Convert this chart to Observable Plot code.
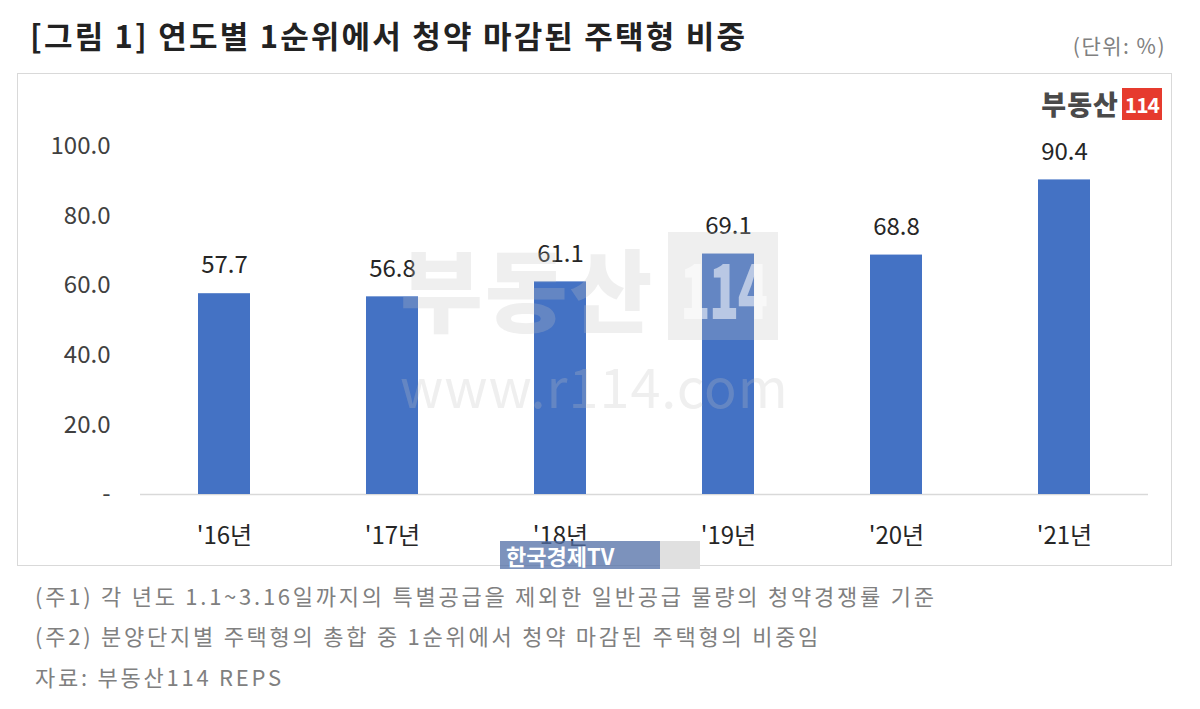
<!DOCTYPE html>
<html><head><meta charset="utf-8">
<script src="https://cdn.jsdelivr.net/npm/d3@7"></script>
<script src="https://cdn.jsdelivr.net/npm/@observablehq/plot@0.6"></script>
<style>
body{margin:0;background:#fff;font-family:"Noto Sans CJK KR","Noto Sans",sans-serif;}
#wrap{position:relative;width:1200px;height:709px;overflow:hidden;}
.abs{position:absolute;white-space:nowrap;}
#title{left:30px;top:12px;font-size:31px;font-weight:700;color:#222;letter-spacing:2.2px;}
#unit{right:34px;top:30px;font-size:21px;color:#808080;letter-spacing:1.5px;}
#box{left:17px;top:73px;width:1155px;height:493px;border:1px solid #d9d9d9;box-sizing:border-box;}
#chart{left:17px;top:73px;}
#logo{right:38px;top:88px;display:flex;align-items:center;height:32px;}
#logo .t{font-size:27px;font-weight:900;color:#4a4a4a;letter-spacing:1px;line-height:32px;}
#logo .r{background:#e63b2e;color:#fff;font-size:21px;font-weight:700;padding:0 3px;margin-left:3px;line-height:32px;height:32px;letter-spacing:-1px;}
.note{left:35px;font-size:22px;color:#808080;letter-spacing:2.75px;}
#wm{left:400px;top:232px;display:flex;align-items:center;}
#wm .t{font-size:90px;font-weight:900;color:rgba(195,195,195,0.26);letter-spacing:2px;line-height:108px;}
#wm .r{background:rgba(195,195,195,0.26);width:110px;height:108px;margin-left:14px;display:flex;align-items:center;justify-content:center;}
#wm .r span{display:inline-block;color:rgba(255,255,255,0.55);font-size:76px;font-weight:900;line-height:100px;transform:scaleX(0.65);letter-spacing:-2px;}
#wm2{left:400px;top:345px;font-size:54px;color:rgba(195,195,195,0.26);letter-spacing:1px;}
#tv{left:500px;top:541px;height:28px;display:flex;}
#tv .a{background:rgba(80,110,165,0.75);color:#fff;font-size:22px;font-weight:700;width:160px;line-height:28px;padding-left:6px;box-sizing:border-box;}
#tv .b{background:#e0e0e0;width:40px;}
</style></head>
<body><div id="wrap">
<div id="title" class="abs">[그림 1] 연도별 1순위에서 청약 마감된 주택형 비중</div>
<div id="unit" class="abs">(단위: %)</div>
<div id="box" class="abs"></div>
<div id="chart" class="abs"></div>
<div id="logo" class="abs"><span class="t">부동산</span><span class="r">114</span></div>
<div id="wm" class="abs"><span class="t">부동산</span><span class="r"><span>114</span></span></div>
<div id="wm2" class="abs">www.r114.com</div>
<div id="tv" class="abs"><div class="a">한국경제TV</div><div class="b"></div></div>
<div class="abs note" style="top:579px">(주1) 각 년도 1.1~3.16일까지의 특별공급을 제외한 일반공급 물량의 청약경쟁률 기준</div>
<div class="abs note" style="top:619px">(주2) 분양단지별 주택형의 총합 중 1순위에서 청약 마감된 주택형의 비중임</div>
<div class="abs note" style="top:660px">자료: 부동산114 REPS</div>
</div>
<script>
const years = ["'16년","'17년","'18년","'19년","'20년","'21년"];
const shares = [57.7, 56.8, 61.1, 69.1, 68.8, 90.4];
const yTicks = [0, 20, 40, 60, 80, 100];
const data = years.map((y, i) => ({year: y, value: shares[i]}));

const chart = Plot.plot({
  width: 1155,
  height: 493,
  marginLeft: 123,
  marginRight: 24,
  marginTop: 73,
  marginBottom: 72,
  style: {background: "transparent", fontFamily: "'Noto Sans CJK KR','Noto Sans',sans-serif", fontSize: "24px", color: "#404040"},
  x: {domain: years, paddingInner: 0.69, paddingOuter: 0.345, label: null},
  y: {domain: [0, 100], label: null},
  marks: [
    Plot.ruleY([0], {stroke: "#d9d9d9", strokeWidth: 1.5}),
    Plot.barY(data, {x: "year", y: "value", fill: "#4472C4"}),
    Plot.text(data, {x: "year", y: "value", text: d => d.value.toFixed(1), dy: -28, fontSize: 24, fill: "#262626"}),
    Plot.axisY(yTicks, {tickSize: 0, tickPadding: 14, tickFormat: d => d === 0 ? "-" : d.toFixed(1), fontSize: 24, fill: "#404040", textAnchor: "end", dx: -16}),
    Plot.axisX({tickSize: 0, tickPadding: 32, fontSize: 24, fill: "#262626"})
  ]
});
document.getElementById("chart").appendChild(chart);
</script>
</body></html>
